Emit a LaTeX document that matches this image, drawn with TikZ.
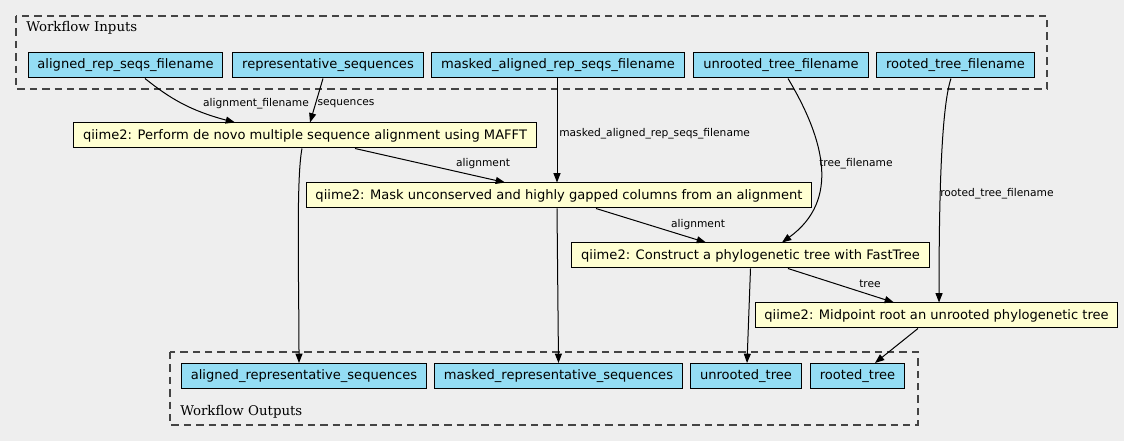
\documentclass[tikz,border=0pt]{standalone}
\usepackage{fontspec}
\setmainfont{DejaVu Sans}
\newfontfamily\clusterfont{DejaVu Serif}
\usetikzlibrary{arrows.meta}
\definecolor{bg_color}{HTML}{EEEEEE}
\definecolor{io_color}{HTML}{94DDF4}
\definecolor{task_color}{HTML}{FFFFD2}
\definecolor{cl_color}{HTML}{444444}

\begin{document}
\begin{tikzpicture}[x=0.75pt, y=-0.75pt,
    iobox/.style={draw, fill=io_color, line width=0.75pt, inner xsep=7pt, inner ysep=0pt, minimum height=18.75pt, font=\fontsize{9.8}{12}\selectfont},
    taskbox/.style={iobox, fill=task_color},
    edge/.style={line width=0.75pt, -{Triangle[length=7pt, width=5.25pt]}},
    elabel/.style={inner sep=0pt, font=\fontsize{8}{9}\selectfont},
    cluster/.style={draw=cl_color, line width=0.8pt, dash pattern=on 5.5pt off 3.8pt},
    clabel/.style={inner sep=0pt, anchor=west, font=\clusterfont\fontsize{10}{12}\selectfont}]
        \fill[bg_color] (0,0) rectangle (1124,441);
        \draw[cluster] (16,16) rectangle (1047,89);
        \draw[cluster] (170,352) rectangle (918,425);
        \node[clabel] (inlabel) at (26,27.5) {Workflow Inputs};
        \node[clabel] (outlabel) at (180,411.5) {Workflow Outputs};
        \node[iobox] (ars) at (125.5,65.5) {aligned\_rep\_seqs\_filename};
        \node[iobox] (rs) at (328,65.5) {representative\_sequences};
        \node[iobox] (mars) at (558,65.5) {masked\_aligned\_rep\_seqs\_filename};
        \node[iobox] (utf) at (781,65.5) {unrooted\_tree\_filename};
        \node[iobox] (rtf) at (955.5,65.5) {rooted\_tree\_filename};
        \node[taskbox] (mafft) at (305,135.5) {qiime2: Perform de novo multiple sequence alignment using MAFFT};
        \node[taskbox] (mask) at (559,195.5) {qiime2: Mask unconserved and highly gapped columns from an alignment};
        \node[taskbox] (fasttree) at (750.5,255.5) {qiime2: Construct a phylogenetic tree with FastTree};
        \node[taskbox] (midpoint) at (936.5,315.5) {qiime2: Midpoint root an unrooted phylogenetic tree};
        \node[iobox] (ars_out) at (304,376) {aligned\_representative\_sequences};
        \node[iobox] (mrs_out) at (558.5,376) {masked\_representative\_sequences};
        \node[iobox] (ut_out) at (746,376) {unrooted\_tree};
        \node[iobox] (rt_out) at (857.5,376) {rooted\_tree};
        \draw[edge] ([xshift=14.6pt]ars.south) .. controls +(25,20) and +(-45,-12) .. ([xshift=-52.5pt]mafft.north);
        \draw[edge] ([xshift=-3.75pt]rs.south) -- ([xshift=3.75pt]mafft.north);
        \draw[edge] ([xshift=-0.75pt]mars.south) -- ([xshift=-1.5pt]mask.north);
        \draw[edge] ([xshift=37.5pt]mafft.south) -- ([xshift=-40.5pt]mask.north);
        \draw[edge] ([xshift=5.25pt]utf.south) .. controls +(37,62) and +(58,-42) .. ([xshift=23.6pt]fasttree.north);
        \draw[edge] ([xshift=27.75pt]mask.south) -- ([xshift=-33.4pt]fasttree.north);
        \draw[edge] ([xshift=-3.4pt]rtf.south) .. controls +(-10,30) and +(0,-100) .. ([xshift=1.9pt]midpoint.north);
        \draw[edge] ([xshift=28.1pt]fasttree.south) -- ([xshift=-31.9pt]midpoint.north);
        \draw[edge] ([xshift=-2.25pt]mafft.south) .. controls +(-6,30) and +(0,-80) .. ([xshift=-3.75pt]ars_out.north);
        \draw[edge] ([xshift=-1.5pt]mask.south) -- (mrs_out.north);
        \draw[edge] (fasttree.south) -- ([xshift=0.75pt]ut_out.north);
        \draw[edge] ([xshift=-13.9pt]midpoint.south) -- ([xshift=13.1pt]rt_out.north);
        \node[elabel] (l_af) at (256,104) {alignment\_filename};
        \node[elabel] (l_seq) at (346,104) {sequences};
        \node[elabel, anchor=west] (l_mars) at (559,134) {masked\_aligned\_rep\_seqs\_filename};
        \node[elabel] (l_al1) at (483,164) {alignment};
        \node[elabel, anchor=west] (l_tf) at (819,164) {tree\_filename};
        \node[elabel] (l_al2) at (698,225) {alignment};
        \node[elabel, anchor=west] (l_rtf) at (940,194) {rooted\_tree\_filename};
        \node[elabel] (l_tree) at (870,284) {tree};
      \end{tikzpicture}
\end{document}
